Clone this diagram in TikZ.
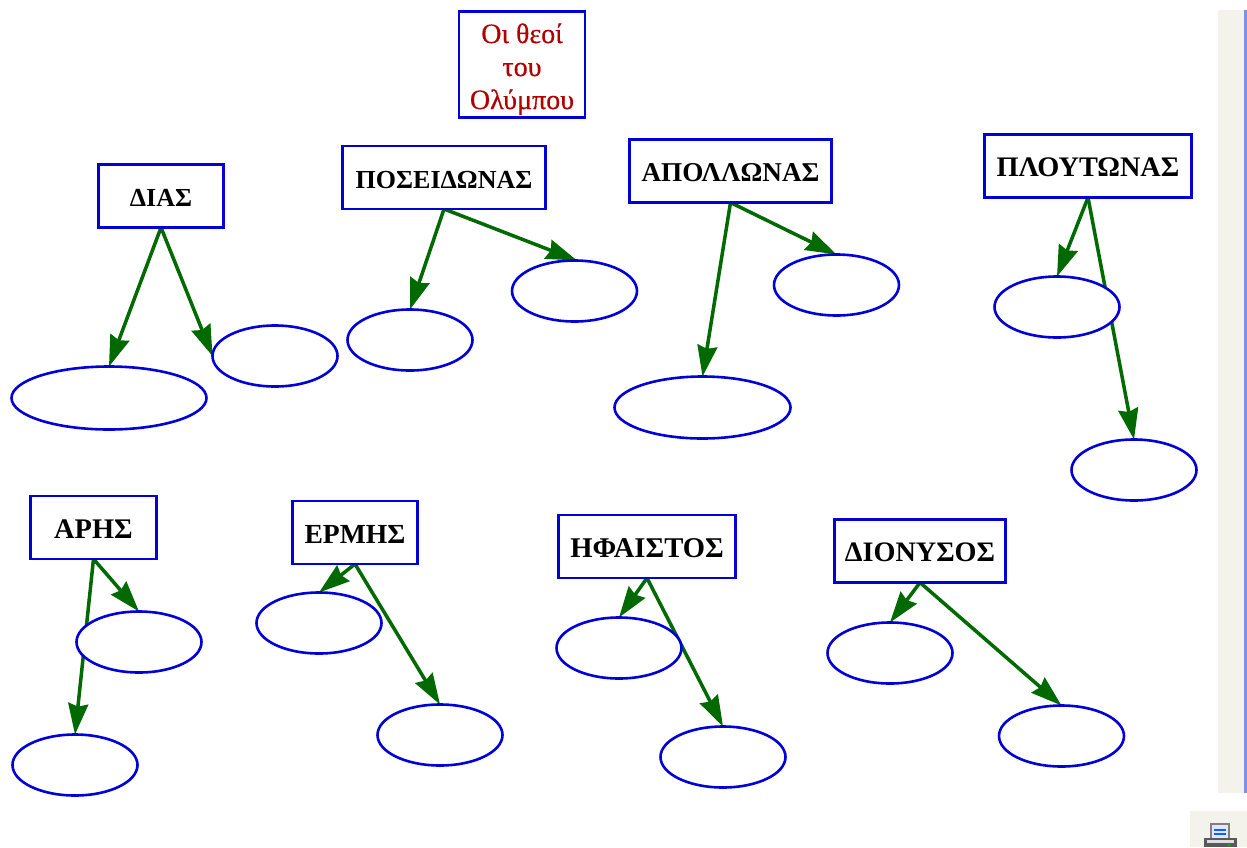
\documentclass[tikz,border=0pt]{standalone}
\usepackage{fontspec}
\setmainfont{Liberation Serif}
\newfontfamily\titlefont[FakeBold=0.5]{Liberation Serif}
\usetikzlibrary{arrows.meta,shapes.geometric,backgrounds}
\definecolor{nodeblue}{RGB}{0,0,215}
\definecolor{arrowgreen}{RGB}{0,105,0}
\definecolor{titlered}{RGB}{176,0,0}
\definecolor{scrolltrack}{RGB}{243,242,235}
\definecolor{scrolledge}{RGB}{125,145,230}
\newcommand\lowered[1]{\raisebox{-10.8pt}[0pt][0pt]{#1}}
\newcommand\godsize[1]{\fontsize{#1}{30}\selectfont\bfseries}
\tikzset{
  godbox/.style={draw=nodeblue,fill=white,line width=2.6pt,rectangle,inner sep=0pt,outer sep=0pt,font=\godsize{26},text=black,align=center,minimum height=63pt},
  blank/.style={draw=nodeblue,fill=white,line width=2.6pt,ellipse,inner sep=0pt,outer sep=0pt,minimum width=125pt,minimum height=61pt},
  link/.style={draw=arrowgreen,line width=3.5pt,-{Stealth[length=31pt,width=20pt,inset=3pt]}},
}
\begin{document}
\begin{tikzpicture}[x=1pt,y=-1pt]
\useasboundingbox (0,0) rectangle (1247,847);
% scroll bar and print icon
\fill[scrolltrack] (1218,10) rectangle (1244,793);
\fill[scrolledge] (1244,10) rectangle (1247,793);
\fill[scrolltrack] (1190,811) rectangle (1247,847);
\draw[gray,line width=1.8pt,fill=white!90!blue] (1211,824) rectangle (1229,839);
\draw[blue!60!cyan,line width=1.5pt] (1214,830) -- (1226,830) (1214,834) -- (1226,834);
\fill[gray!70!black] (1204,838) rectangle (1237,847);
\fill[gray!25] (1207,840) rectangle (1234,843);
\fill[green!70!black] (1229,845) circle (1.5);

\node[draw=nodeblue,fill=white,line width=2.6pt,inner sep=0pt,outer sep=0pt,minimum width=126pt,minimum height=106pt,text=titlered,align=center,font=\fontsize{28}{33}\titlefont] (title) at (522,64.5) {\rule{0pt}{29pt}Οι θεοί\\του\\Ολύμπου};

\node[godbox,minimum width=125pt] (dias) at (161,196) {\lowered{ΔΙΑΣ}};
\node[godbox,minimum width=203pt] (pos) at (444,177.5) {\lowered{ΠΟΣΕΙΔΩΝΑΣ}};
\node[godbox,minimum width=202pt,font=\godsize{27.2}] (apo) at (730.5,171) {\lowered{ΑΠΟΛΛΩΝΑΣ}};
\node[godbox,minimum width=207pt,font=\godsize{28.3}] (plo) at (1088,166) {\lowered{ΠΛΟΥΤΩΝΑΣ}};
\node[godbox,minimum width=126pt,font=\godsize{28.4}] (ari) at (93.5,527.5) {\lowered{ΑΡΗΣ}};
\node[godbox,minimum width=125pt,font=\godsize{27.6}] (erm) at (355,532.5) {\lowered{ΕΡΜΗΣ}};
\node[godbox,minimum width=177pt,font=\godsize{28.6}] (ifa) at (647,546.5) {\lowered{ΗΦΑΙΣΤΟΣ}};
\node[godbox,minimum width=171pt,font=\godsize{28.2}] (dio) at (920,551) {\lowered{ΔΙΟΝΥΣΟΣ}};

\node[blank,minimum width=195pt,minimum height=63pt] (diasA) at (109,398) {};
\node[blank] (diasB) at (275,356) {};
\node[blank] (posA) at (410,340) {};
\node[blank] (posB) at (574.5,291) {};
\node[blank] (apoA) at (836.5,285) {};
\node[blank,minimum width=176pt,minimum height=62pt] (apoB) at (702.5,407.5) {};
\node[blank] (ploA) at (1057,307) {};
\node[blank] (ploB) at (1134,470) {};
\node[blank] (ariA) at (139,642) {};
\node[blank] (ariB) at (75,765) {};
\node[blank] (ermA) at (319,623) {};
\node[blank] (ermB) at (440,735) {};
\node[blank] (ifaA) at (619,648) {};
\node[blank] (ifaB) at (723,757) {};
\node[blank] (dioA) at (890,653) {};
\node[blank] (dioB) at (1061.5,736) {};

\begin{scope}[on background layer]
\draw[link] (dias.south) -- (diasA.north);
\draw[link] (dias.south) -- (diasB.west);
\draw[link] (pos.south) -- (posA.north);
\draw[link] (pos.south) -- ([xshift=2.5pt]posB.north);
\draw[link] (apo.south) -- (apoA.north);
\draw[link] (apo.south) -- (apoB.north);
\draw[link] (plo.south) -- (ploA.north);
\draw[link] (plo.south) -- (ploB.north);
\draw[link] (ari.south) -- (ariA.north);
\draw[link] (ari.south) -- (ariB.north);
\draw[link] (erm.south) -- (ermA.north);
\draw[link] (erm.south) -- (ermB.north);
\draw[link] (ifa.south) -- (ifaA.north);
\draw[link] (ifa.south) -- (ifaB.north);
\draw[link] (dio.south) -- (dioA.north);
\draw[link] (dio.south) -- (dioB.north);
\end{scope}
\end{tikzpicture}
\end{document}
